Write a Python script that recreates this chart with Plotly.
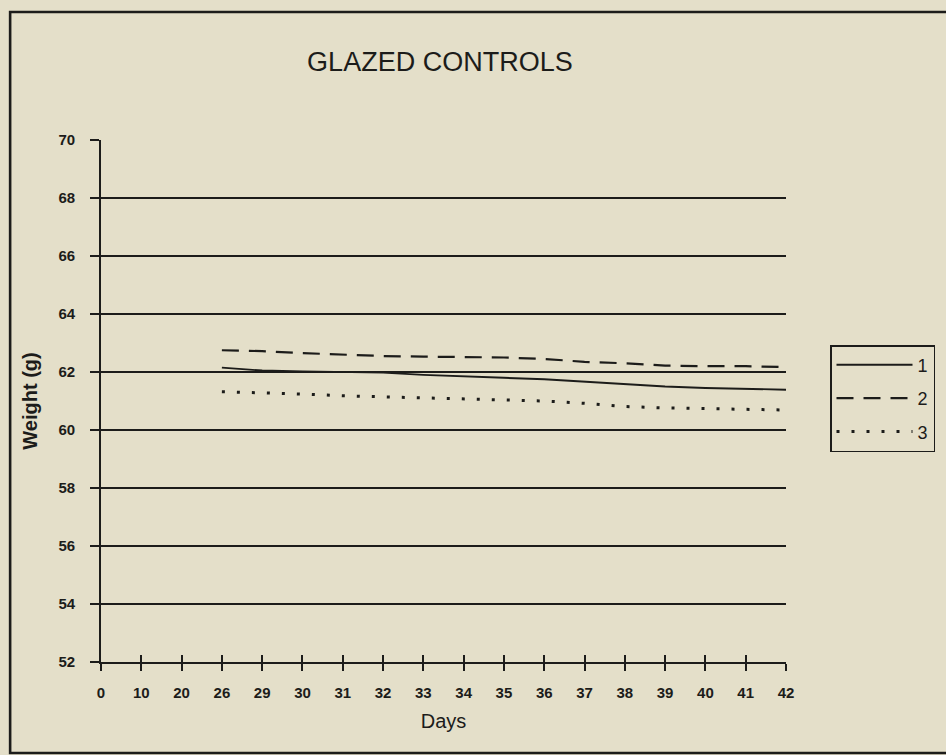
import plotly.graph_objects as go

# Axis categories (days) and weight series
day_labels = ["0", "10", "20", "26", "29", "30", "31", "32", "33", "34",
              "35", "36", "37", "38", "39", "40", "41", "42"]
series_days = ["26", "29", "30", "31", "32", "33", "34", "35", "36",
               "37", "38", "39", "40", "41", "42"]
weight_1 = [62.15, 62.05, 62.02, 62.00, 61.98, 61.90, 61.84, 61.80, 61.75,
            61.67, 61.58, 61.50, 61.45, 61.42, 61.39]
weight_2 = [62.75, 62.72, 62.65, 62.60, 62.55, 62.53, 62.52, 62.50, 62.45,
            62.35, 62.30, 62.22, 62.20, 62.20, 62.17]
weight_3 = [61.32, 61.29, 61.24, 61.18, 61.14, 61.10, 61.06, 61.03, 61.00,
            60.92, 60.81, 60.76, 60.73, 60.71, 60.69]
y_ticks = [52, 54, 56, 58, 60, 62, 64, 66, 68, 70]

BG = "#E4DFC9"
INK = "#1c1c1a"
FONT = "Liberation Sans, Arial, sans-serif"

# category positions on a linear axis
pos = {d: i for i, d in enumerate(day_labels)}
xs = [pos[d] for d in series_days]

fig = go.Figure()
styles = [("1", weight_1, "solid", 1.9),
          ("2", weight_2, "17px,10px", 2.2),
          ("3", weight_3, "3px,12px", 3.0)]
for name, ys, dash, w in styles:
    fig.add_trace(go.Scatter(
        x=xs, y=ys, mode="lines", name=name, legendgroup=name,
        line=dict(color=INK, width=w, dash=dash),
    ))

# invisible trace on a companion axis to draw the inward half of the x ticks
fig.add_trace(go.Scatter(x=[0, len(day_labels) - 1], y=[52, 52], xaxis="x2",
                         mode="lines", line=dict(width=0), showlegend=False,
                         hoverinfo="skip"))

L, R, T, B = 101, 159, 140, 93
W, H = 946, 755
pw, ph = W - L - R, H - T - B


def px_x(x):
    return (x - L) / pw


def px_y(y):
    return (H - B - y) / ph


fig.update_layout(
    width=W, height=H,
    margin=dict(l=L, r=R, t=T, b=B, pad=0),
    paper_bgcolor=BG, plot_bgcolor=BG,
    font=dict(family=FONT, color=INK),
    title=dict(text="GLAZED CONTROLS", x=0.465, xanchor="center",
               y=1 - 62 / H, yanchor="middle",
               font=dict(size=27, family=FONT, color=INK)),
    xaxis=dict(
        range=[0, len(day_labels) - 1], tickmode="array",
        tickvals=list(range(len(day_labels))), ticktext=day_labels,
        showgrid=False, zeroline=False,
        showline=True, linecolor=INK, linewidth=1.6,
        ticks="outside", ticklen=7, tickwidth=1.6, tickcolor=INK,
        tickfont=dict(size=15, family=FONT, color=INK, weight="bold"),
        ticklabelstandoff=9,
        title=dict(text="Days", font=dict(size=20, family=FONT, color=INK),
                   standoff=14),
    ),
    xaxis2=dict(
        overlaying="x", anchor="y", side="bottom",
        range=[0, len(day_labels) - 1], tickmode="array",
        tickvals=list(range(len(day_labels))), showticklabels=False,
        showgrid=False, zeroline=False, showline=False,
        ticks="inside", ticklen=7, tickwidth=1.6, tickcolor=INK,
    ),
    yaxis=dict(
        range=[52, 70], tickmode="array", tickvals=y_ticks,
        showgrid=True, gridcolor=INK, gridwidth=1.6, zeroline=False,
        showline=True, linecolor=INK, linewidth=1.6,
        ticks="outside", ticklen=9, tickwidth=1.6, tickcolor=INK,
        tickfont=dict(size=15, family=FONT, color=INK, weight="bold"),
        ticklabelstandoff=12,
        title=dict(text="Weight (g)",
                   font=dict(size=20, family=FONT, color=INK, weight="bold"),
                   standoff=16),
    ),
    legend=dict(
        x=px_x(830), y=px_y(345), xanchor="left", yanchor="top",
        bgcolor="rgba(0,0,0,0)", bordercolor=INK, borderwidth=1.5,
        font=dict(size=18, family=FONT, color=INK),
        itemwidth=76, tracegroupgap=7,
    ),
    showlegend=True,
    shapes=[dict(type="rect", xref="paper", yref="paper",
                 x0=px_x(10), x1=px_x(975), y0=px_y(753), y1=px_y(12),
                 line=dict(color=INK, width=2.6), fillcolor="rgba(0,0,0,0)",
                 layer="below")],
)

fig.write_html("out.html")
